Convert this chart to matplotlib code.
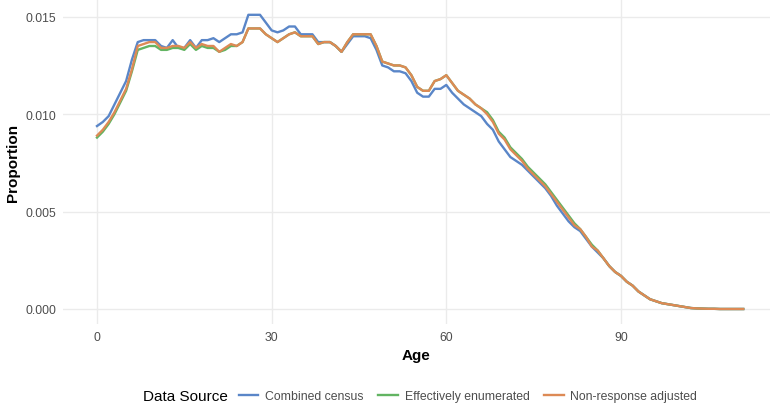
import matplotlib
matplotlib.use("Agg")
import matplotlib.pyplot as plt
import numpy as np

plt.rcParams["font.family"] = ["Liberation Sans", "DejaVu Sans"]

ages = np.arange(0, 112)

combined_census = [
    0.00939, 0.0096, 0.0099, 0.0105, 0.0111, 0.0117, 0.0128, 0.0137, 0.0138, 0.0138,
    0.0138, 0.0135, 0.0134, 0.0138, 0.0134, 0.0134, 0.0138, 0.0134, 0.0138, 0.0138,
    0.0139, 0.0137, 0.0139, 0.0141, 0.0141, 0.0142, 0.0151, 0.0151, 0.0151, 0.0147,
    0.0143, 0.0142, 0.0143, 0.0145, 0.0145, 0.0141, 0.0141, 0.0141, 0.0137, 0.0137,
    0.0137, 0.0135, 0.0132, 0.0136, 0.0140, 0.0140, 0.0140, 0.0139, 0.0133, 0.0125,
    0.0124, 0.0122, 0.0122, 0.0121, 0.0117, 0.0111, 0.0109, 0.0109, 0.0113, 0.0113,
    0.0115, 0.0111, 0.0108, 0.0105, 0.0103, 0.0101, 0.0099, 0.0095, 0.0092, 0.0086,
    0.0082, 0.0078, 0.0076, 0.0074, 0.0071, 0.0068, 0.0065, 0.0062, 0.0058, 0.0053,
    0.0049, 0.0045, 0.0042, 0.0040, 0.0036, 0.0032, 0.0029, 0.0026, 0.0022, 0.0019,
    0.0017, 0.0014, 0.0012, 0.0009, 0.0007, 0.0005, 0.0004, 0.0003, 0.00025, 0.0002,
    0.00015, 0.0001, 0.00005, 0.00003, 0.00002, 0.00001, 0.00001, 0.0, 0.0, 0.0,
    0.0, 0.0,
]

effectively_enumerated = [
    0.0088, 0.0091, 0.0095, 0.0100, 0.0106, 0.0112, 0.0122, 0.0133, 0.0134, 0.0135,
    0.0135, 0.0133, 0.0133, 0.0134, 0.0134, 0.0133, 0.0136, 0.0133, 0.0135, 0.0134,
    0.0134, 0.0132, 0.0133, 0.0135, 0.0135, 0.0137, 0.0144, 0.0144, 0.0144, 0.0141,
    0.0139, 0.0137, 0.0139, 0.0141, 0.0142, 0.0140, 0.0140, 0.0140, 0.0136, 0.0137,
    0.0137, 0.0135, 0.0132, 0.0137, 0.0141, 0.0141, 0.0141, 0.0141, 0.0135, 0.0127,
    0.0126, 0.0125, 0.0125, 0.0124, 0.0120, 0.0114, 0.0112, 0.0112, 0.0117, 0.0118,
    0.0120, 0.0116, 0.0112, 0.0110, 0.0108, 0.0105, 0.0103, 0.0101, 0.0097, 0.0091,
    0.0088, 0.0083, 0.0080, 0.0077, 0.0073, 0.0070, 0.0067, 0.0064, 0.0060, 0.0056,
    0.0052, 0.0048, 0.0044, 0.0041, 0.0037, 0.0033, 0.0030, 0.0026, 0.0022, 0.0019,
    0.0017, 0.0014, 0.0012, 0.0009, 0.0007, 0.0005, 0.0004, 0.0003, 0.00025, 0.0002,
    0.00015, 0.0001, 0.00005, 0.00003, 0.00002, 0.00001, 0.00001, 0.0, 0.0, 0.0,
    0.0, 0.0,
]

nonresponse_adjusted = [
    0.0089, 0.0092, 0.0096, 0.0101, 0.0107, 0.0113, 0.0123, 0.0135, 0.0136, 0.0137,
    0.0137, 0.0134, 0.0134, 0.0135, 0.0135, 0.0134, 0.0137, 0.0134, 0.0136, 0.0135,
    0.0135, 0.0132, 0.0134, 0.0136, 0.0135, 0.0137, 0.0144, 0.0144, 0.0144, 0.0141,
    0.0139, 0.0137, 0.0139, 0.0141, 0.0142, 0.0140, 0.0140, 0.0140, 0.0136, 0.0137,
    0.0137, 0.0135, 0.0132, 0.0137, 0.0141, 0.0141, 0.0141, 0.0141, 0.0135, 0.0127,
    0.0126, 0.0125, 0.0125, 0.0124, 0.0120, 0.0114, 0.0112, 0.0112, 0.0117, 0.0118,
    0.0120, 0.0116, 0.0112, 0.0110, 0.0108, 0.0105, 0.0103, 0.0100, 0.0096, 0.0090,
    0.0087, 0.0082, 0.0079, 0.0076, 0.0072, 0.0069, 0.0066, 0.0063, 0.0059, 0.0055,
    0.0051, 0.0047, 0.0043, 0.0041, 0.0037, 0.0032, 0.0030, 0.0026, 0.0022, 0.0019,
    0.0017, 0.0014, 0.0012, 0.0009, 0.0007, 0.0005, 0.0004, 0.0003, 0.00025, 0.0002,
    0.00015, 0.0001, 0.00005, 0.00003, 0.00002, 0.00001, 0.00001, 0.0, 0.0, 0.0,
    0.0, 0.0,
]

series = [
    ("Combined census", combined_census, "#5A86C8"),
    ("Effectively enumerated", effectively_enumerated, "#62B462"),
    ("Non-response adjusted", nonresponse_adjusted, "#DD8A55"),
]

W, H = 770, 410
fig = plt.figure(figsize=(W / 100, H / 100), dpi=100)
ax = fig.add_axes([63 / W, 85 / H, (W - 63) / W, 324 / H])

for name, vals, col in series:
    ax.plot(ages, vals, color=col, lw=1.7, label=name, solid_joinstyle="round")

ax.set_xlim(-5.84, 115.6)
ax.set_ylim(-0.00077, 0.01586)
ax.set_xticks([0, 30, 60, 90])
ax.set_yticks([0.0, 0.005, 0.010, 0.015])
ax.set_yticklabels(["0.000", "0.005", "0.010", "0.015"])
ax.grid(True, color="#EBEBEB", lw=1.0)
ax.set_axisbelow(True)
for s in ax.spines.values():
    s.set_visible(False)
ax.tick_params(length=0, labelsize=8.8, labelcolor="#4D4D4D", pad=5)

ax.set_xlabel("Age", fontsize=11, fontweight="bold", labelpad=4)
ax.set_ylabel("Proportion", fontsize=11, fontweight="bold", labelpad=4)

fig.text(228 / W, 1 - 397 / H, "Data Source", fontsize=11, ha="right", va="center")
leg = fig.legend(loc="center", bbox_to_anchor=(468 / W, 1 - 397 / H), ncol=3,
                 frameon=False, fontsize=8.8, handlelength=1.6, handletextpad=0.55,
                 columnspacing=1.2)
for t in leg.get_texts():
    t.set_color("#4D4D4D")

fig.savefig("out.png", dpi=100)
